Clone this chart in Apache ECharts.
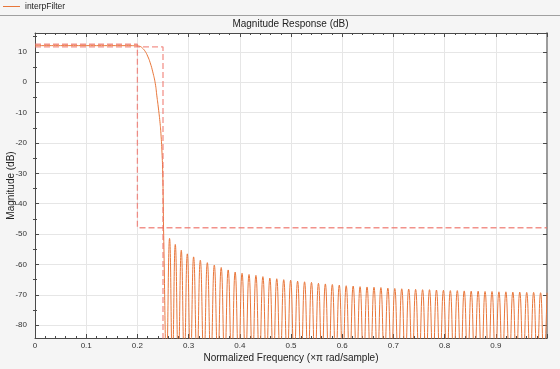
<!DOCTYPE html>
<html><head><meta charset="utf-8">
<script src="https://cdn.jsdelivr.net/npm/echarts@6/dist/echarts.min.js"></script>
<style>html,body{margin:0;padding:0;background:#f5f5f5}#c{width:560px;height:369px}</style>
</head><body><div id="c"></div><script>
// ---- data ----
const seriesName = 'interpFilter';
const titleText = 'Magnitude Response (dB)';
const xLabel = 'Normalized Frequency (\u00d7\u03c0 rad/sample)';
const yLabel = 'Magnitude (dB)';
const xLimits = [0, 1];
const yLimits = [-84.2, 16.2];
const yMajorTicks = [-80, -70, -60, -50, -40, -30, -20, -10, 0, 10];
const yMinorTicks = [-75, -65, -55, -45, -35, -25, -15, -5, 5, 15];

// passband + transition band
const passFreq = [0, 0.05, 0.10, 0.15, 0.19, 0.200, 0.205, 0.210, 0.215, 0.220, 0.225, 0.230, 0.235, 0.238, 0.241, 0.244, 0.246, 0.248, 0.2495, 0.2505];
const passDb   = [12.04, 12.04, 12.04, 12.04, 12.03, 11.95, 11.8, 11.2, 10.2, 8.6, 6.4, 3.4, -0.5, -4.5, -8.5, -13, -17, -23, -30, -40];

// stopband sidelobe peaks
const lobeFreq = [0.2511, 0.2628, 0.2740, 0.2857, 0.2975, 0.3098, 0.3229, 0.3366, 0.3502, 0.3637,
  0.3773, 0.3909, 0.4044, 0.4180, 0.4315, 0.4451, 0.4587, 0.4722, 0.4858, 0.4993,
  0.5129, 0.5265, 0.5400, 0.5536, 0.5671, 0.5807, 0.5943, 0.6078, 0.6214, 0.6349,
  0.6485, 0.6621, 0.6756, 0.6892, 0.7027, 0.7163, 0.7299, 0.7434, 0.7570, 0.7705,
  0.7841, 0.7977, 0.8112, 0.8248, 0.8383, 0.8519, 0.8655, 0.8790, 0.8926, 0.9061,
  0.9197, 0.9333, 0.9468, 0.9604, 0.9739, 0.9875, 1.0000];
const lobeDb = [-48.4, -51.4, -53.4, -55.3, -56.5, -57.5, -58.6, -59.4, -60.2, -61.0,
  -61.8, -62.5, -62.9, -63.3, -63.6, -64.0, -64.5, -64.7, -65.0, -65.2,
  -65.5, -65.7, -65.9, -66.2, -66.4, -66.6, -66.8, -67.0, -67.1, -67.3,
  -67.4, -67.5, -67.6, -67.8, -67.9, -68.0, -68.1, -68.2, -68.3, -68.3,
  -68.4, -68.5, -68.6, -68.6, -68.7, -68.8, -68.8, -68.9, -68.9, -69.0,
  -69.0, -69.1, -69.1, -69.2, -69.2, -69.3, -69.3];
// stopband nulls (between lobes), depth below the visible axis
const nullFreq = [0.2570, 0.2684, 0.2799, 0.2916, 0.3037, 0.3164, 0.3298, 0.3434, 0.3570, 0.3705,
  0.3841, 0.3977, 0.4112, 0.4248, 0.4383, 0.4519, 0.4655, 0.4790, 0.4926, 0.5061,
  0.5197, 0.5333, 0.5468, 0.5604, 0.5739, 0.5875, 0.6011, 0.6146, 0.6282, 0.6417,
  0.6553, 0.6689, 0.6824, 0.6960, 0.7095, 0.7231, 0.7367, 0.7502, 0.7638, 0.7773,
  0.7909, 0.8045, 0.8180, 0.8316, 0.8451, 0.8587, 0.8723, 0.8858, 0.8994, 0.9129,
  0.9265, 0.9401, 0.9536, 0.9672, 0.9807, 0.9938];
const nullDepthDb = -92;

// spec mask (dashed)
const maskUpperFreq = [0, 0.2, 0.2, 1];
const maskUpperDb   = [12.5, 12.5, -47.9, -47.9];
const maskLowerFreq = [0, 0.25, 0.25];
const maskLowerDb   = [11.6, 11.6, -110];

// ---- build ----
const response = passFreq.map((f, i) => [f, passDb[i]]);
lobeFreq.forEach((f, i) => {
  response.push([f, lobeDb[i]]);
  if (i < nullFreq.length) response.push([nullFreq[i], nullDepthDb]);
});
const maskUpper = maskUpperFreq.map((f, i) => [f, maskUpperDb[i]]);
const maskLower = maskLowerFreq.map((f, i) => [f, maskLowerDb[i]]);

const FONT = "'Liberation Sans', Arial, Helvetica, sans-serif";
const axisDark = '#4a4a4a';
const gridCol = '#e6e6e6';
const lineCol = '#e8763a';

const chart = echarts.init(document.getElementById('c'), null, {renderer: 'canvas'});
chart.setOption({
  backgroundColor: '#f5f5f5',
  animation: false,
  textStyle: {fontFamily: FONT},
  legend: {
    data: [{name: seriesName, icon: 'rect', itemStyle: {color: lineCol}}],
    left: 3, top: 2, itemWidth: 17, itemHeight: 1, itemGap: 4,
    textStyle: {fontFamily: FONT, fontSize: 8.5, color: '#222'}, padding: [0, 0, 0, 0]
  },
  graphic: [
    {type: 'line', shape: {x1: 0, y1: 15.5, x2: 560, y2: 15.5}, style: {stroke: '#a0a0a0', lineWidth: 1}, silent: true},
    {type: 'text', x: 290.5, y: 24, style: {text: titleText, font: '10px ' + FONT, fill: '#222', textAlign: 'center', textVerticalAlign: 'middle'}, silent: true},
    {type: 'text', x: 11, y: 185.5, rotation: Math.PI / 2, style: {text: yLabel, font: '10px ' + FONT, fill: '#222', textAlign: 'center', textVerticalAlign: 'middle'}, silent: true}
  ],
  grid: {left: 35, right: 13, top: 33, bottom: 31, show: true, backgroundColor: '#ffffff', borderWidth: 0,
         containLabel: false, outerBoundsMode: 'none'},
  xAxis: [
    {
      type: 'value', position: 'bottom', min: xLimits[0], max: xLimits[1], interval: 0.1,
      name: xLabel, nameLocation: 'middle', nameGap: 15, nameMoveOverlap: false,
      nameTextStyle: {fontFamily: FONT, fontSize: 10, color: '#222'},
      axisLine: {show: true, onZero: false, lineStyle: {color: axisDark, width: 1}},
      axisTick: {show: true, inside: true, length: 4, lineStyle: {color: axisDark}},
      minorTick: {show: true, splitNumber: 5, length: 2, lineStyle: {color: axisDark}},
      splitLine: {show: true, lineStyle: {color: gridCol, width: 1}},
      axisLabel: {fontFamily: FONT, fontSize: 8, color: '#333', margin: 4, showMaxLabel: false}
    },
    {
      type: 'value', position: 'top', min: xLimits[0], max: xLimits[1], interval: 0.1,
      axisLine: {show: true, onZero: false, lineStyle: {color: axisDark, width: 1}},
      axisTick: {show: true, inside: true, length: 4, lineStyle: {color: axisDark}},
      minorTick: {show: true, splitNumber: 5, length: 2, lineStyle: {color: axisDark}},
      splitLine: {show: false}, axisLabel: {show: false}
    }
  ],
  yAxis: [
    {
      type: 'value', position: 'left', min: yLimits[0], max: yLimits[1],
      axisLine: {show: true, onZero: false, lineStyle: {color: axisDark, width: 1}},
      axisTick: {show: true, inside: true, length: 4, customValues: yMajorTicks, lineStyle: {color: axisDark}},
      minorTick: {show: false},
      splitLine: {show: true, lineStyle: {color: gridCol, width: 1}},
      axisLabel: {fontFamily: FONT, fontSize: 8, color: '#333', margin: 8, customValues: yMajorTicks}
    },
    {
      type: 'value', position: 'right', min: yLimits[0], max: yLimits[1],
      axisLine: {show: true, onZero: false, lineStyle: {color: '#9c9c9c', width: 2}},
      axisTick: {show: true, inside: true, length: 4, customValues: yMajorTicks, lineStyle: {color: axisDark}},
      minorTick: {show: false}, splitLine: {show: false}, axisLabel: {show: false}
    },
    {
      type: 'value', position: 'left', min: yLimits[0], max: yLimits[1],
      axisLine: {show: false},
      axisTick: {show: true, inside: true, length: 2, customValues: yMinorTicks, lineStyle: {color: axisDark}},
      minorTick: {show: false}, splitLine: {show: false}, axisLabel: {show: false}
    },
    {
      type: 'value', position: 'right', min: yLimits[0], max: yLimits[1],
      axisLine: {show: false},
      axisTick: {show: true, inside: true, length: 2, customValues: yMinorTicks, lineStyle: {color: axisDark}},
      minorTick: {show: false}, splitLine: {show: false}, axisLabel: {show: false}
    }
  ],
  series: [
    {
      name: seriesName, type: 'line', data: response, xAxisIndex: 0, yAxisIndex: 0,
      symbol: 'none', smooth: 0.5, clip: true,
      lineStyle: {color: lineCol, width: 1}, itemStyle: {color: lineCol}, z: 2
    },
    {
      name: 'maskUpper', type: 'line', data: maskUpper, xAxisIndex: 0, yAxisIndex: 0,
      symbol: 'none', clip: true, silent: true,
      lineStyle: {color: 'rgba(238,110,100,0.75)', width: 1.3, type: [6, 3]}, z: 3
    },
    {
      name: 'maskLower', type: 'line', data: maskLower, xAxisIndex: 0, yAxisIndex: 0,
      symbol: 'none', clip: true, silent: true,
      lineStyle: {color: 'rgba(238,110,100,0.75)', width: 1.3, type: [6, 3]}, z: 3
    }
  ]
});
</script></body></html>
